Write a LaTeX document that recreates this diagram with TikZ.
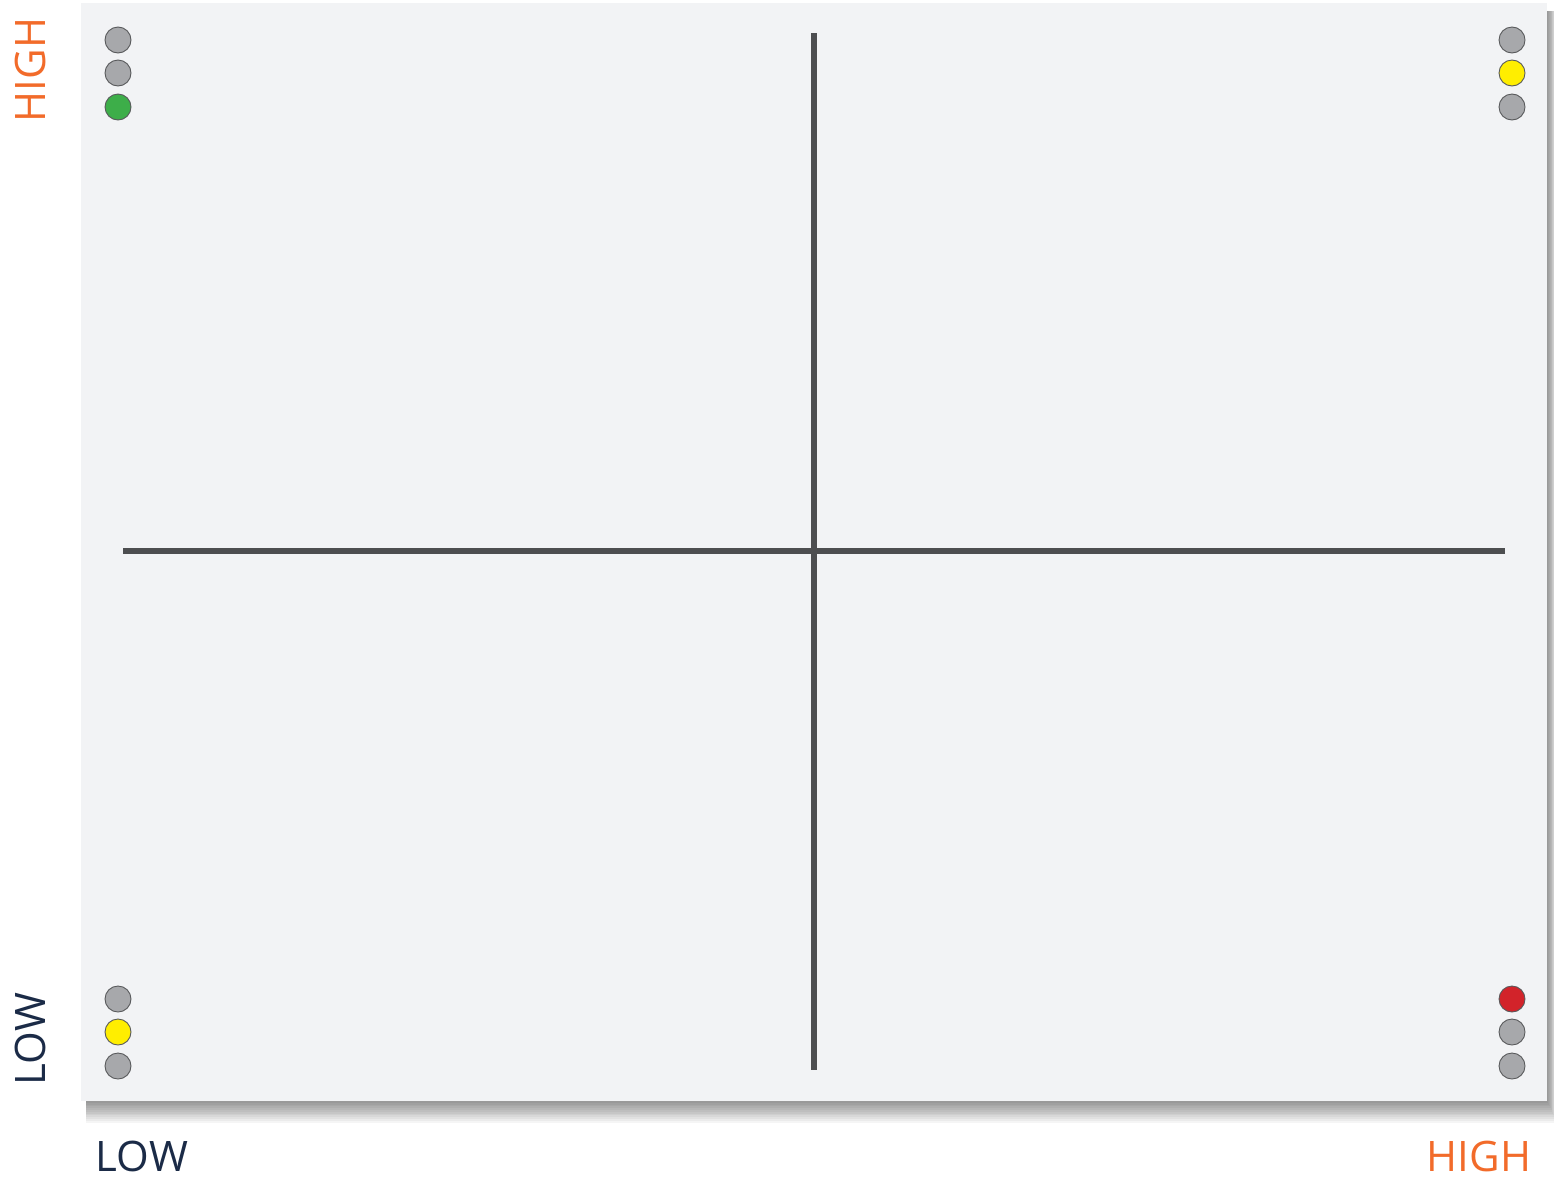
\documentclass[tikz,border=0pt]{standalone}
\usepackage{fontspec}
\setmainfont{Open Sans}
\definecolor{panelbg}{HTML}{F2F3F5}
\definecolor{axisgray}{HTML}{4D4E50}
\definecolor{dotgray}{HTML}{A7A8AB}
\definecolor{dotline}{HTML}{58595B}
\definecolor{dotgreen}{HTML}{3DAE49}
\definecolor{dotyellow}{HTML}{FFEE00}
\definecolor{dotred}{HTML}{D2232A}
\definecolor{hiorange}{HTML}{F26B2A}
\definecolor{lownavy}{HTML}{1B2B47}
\begin{document}
\begin{tikzpicture}[x=1pt,y=-1pt,
  lamp/.style={circle,draw=dotline,line width=0.9pt,minimum size=26pt,inner sep=0pt},
  off/.style={lamp,fill=dotgray},
  axisline/.style={draw=axisgray,line width=6pt},
  lbl/.style={font=\fontsize{42}{42}\selectfont,inner sep=0pt}]
\useasboundingbox (0,0) rectangle (1554,1181);
\fill[white] (0,0) rectangle (1554,1181);
% shadow
\foreach \i in {1,...,12}{
  \fill[black,opacity=0.04] (81+5,3+8) rectangle (1547+\i*0.9,1101+\i*1.8);
}
\fill[panelbg] (81,3) rectangle (1547,1101);
% axes
\coordinate (hl) at (123,551);
\coordinate (hr) at (1505,551);
\coordinate (vt) at (814,33);
\coordinate (vb) at (814,1070);
\draw[axisline] (hl) -- (hr);
\draw[axisline] (vt) -- (vb);
% lamps top-left
\node[off] (tl1) at (118,40) {};
\node[off] (tl2) at (118,73) {};
\node[lamp,fill=dotgreen] (tl3) at (118,107) {};
% top-right
\node[off] (tr1) at (1512,40) {};
\node[lamp,fill=dotyellow] (tr2) at (1512,73) {};
\node[off] (tr3) at (1512,107) {};
% bottom-left
\node[off] (bl1) at (118,999) {};
\node[lamp,fill=dotyellow] (bl2) at (118,1032) {};
\node[off] (bl3) at (118,1066) {};
% bottom-right
\node[lamp,fill=dotred] (br1) at (1512,999) {};
\node[off] (br2) at (1512,1032) {};
\node[off] (br3) at (1512,1066) {};
% labels
\node[lbl,text=hiorange,rotate=90,anchor=base] (yhigh) at (45,70) {HIGH};
\node[lbl,text=lownavy,rotate=90,anchor=base] (ylow) at (45,1039) {LOW};
\node[lbl,text=lownavy,anchor=base] (xlow) at (142,1171) {LOW};
\node[lbl,text=hiorange,anchor=base] (xhigh) at (1479,1171) {HIGH};
\end{tikzpicture}
\end{document}
